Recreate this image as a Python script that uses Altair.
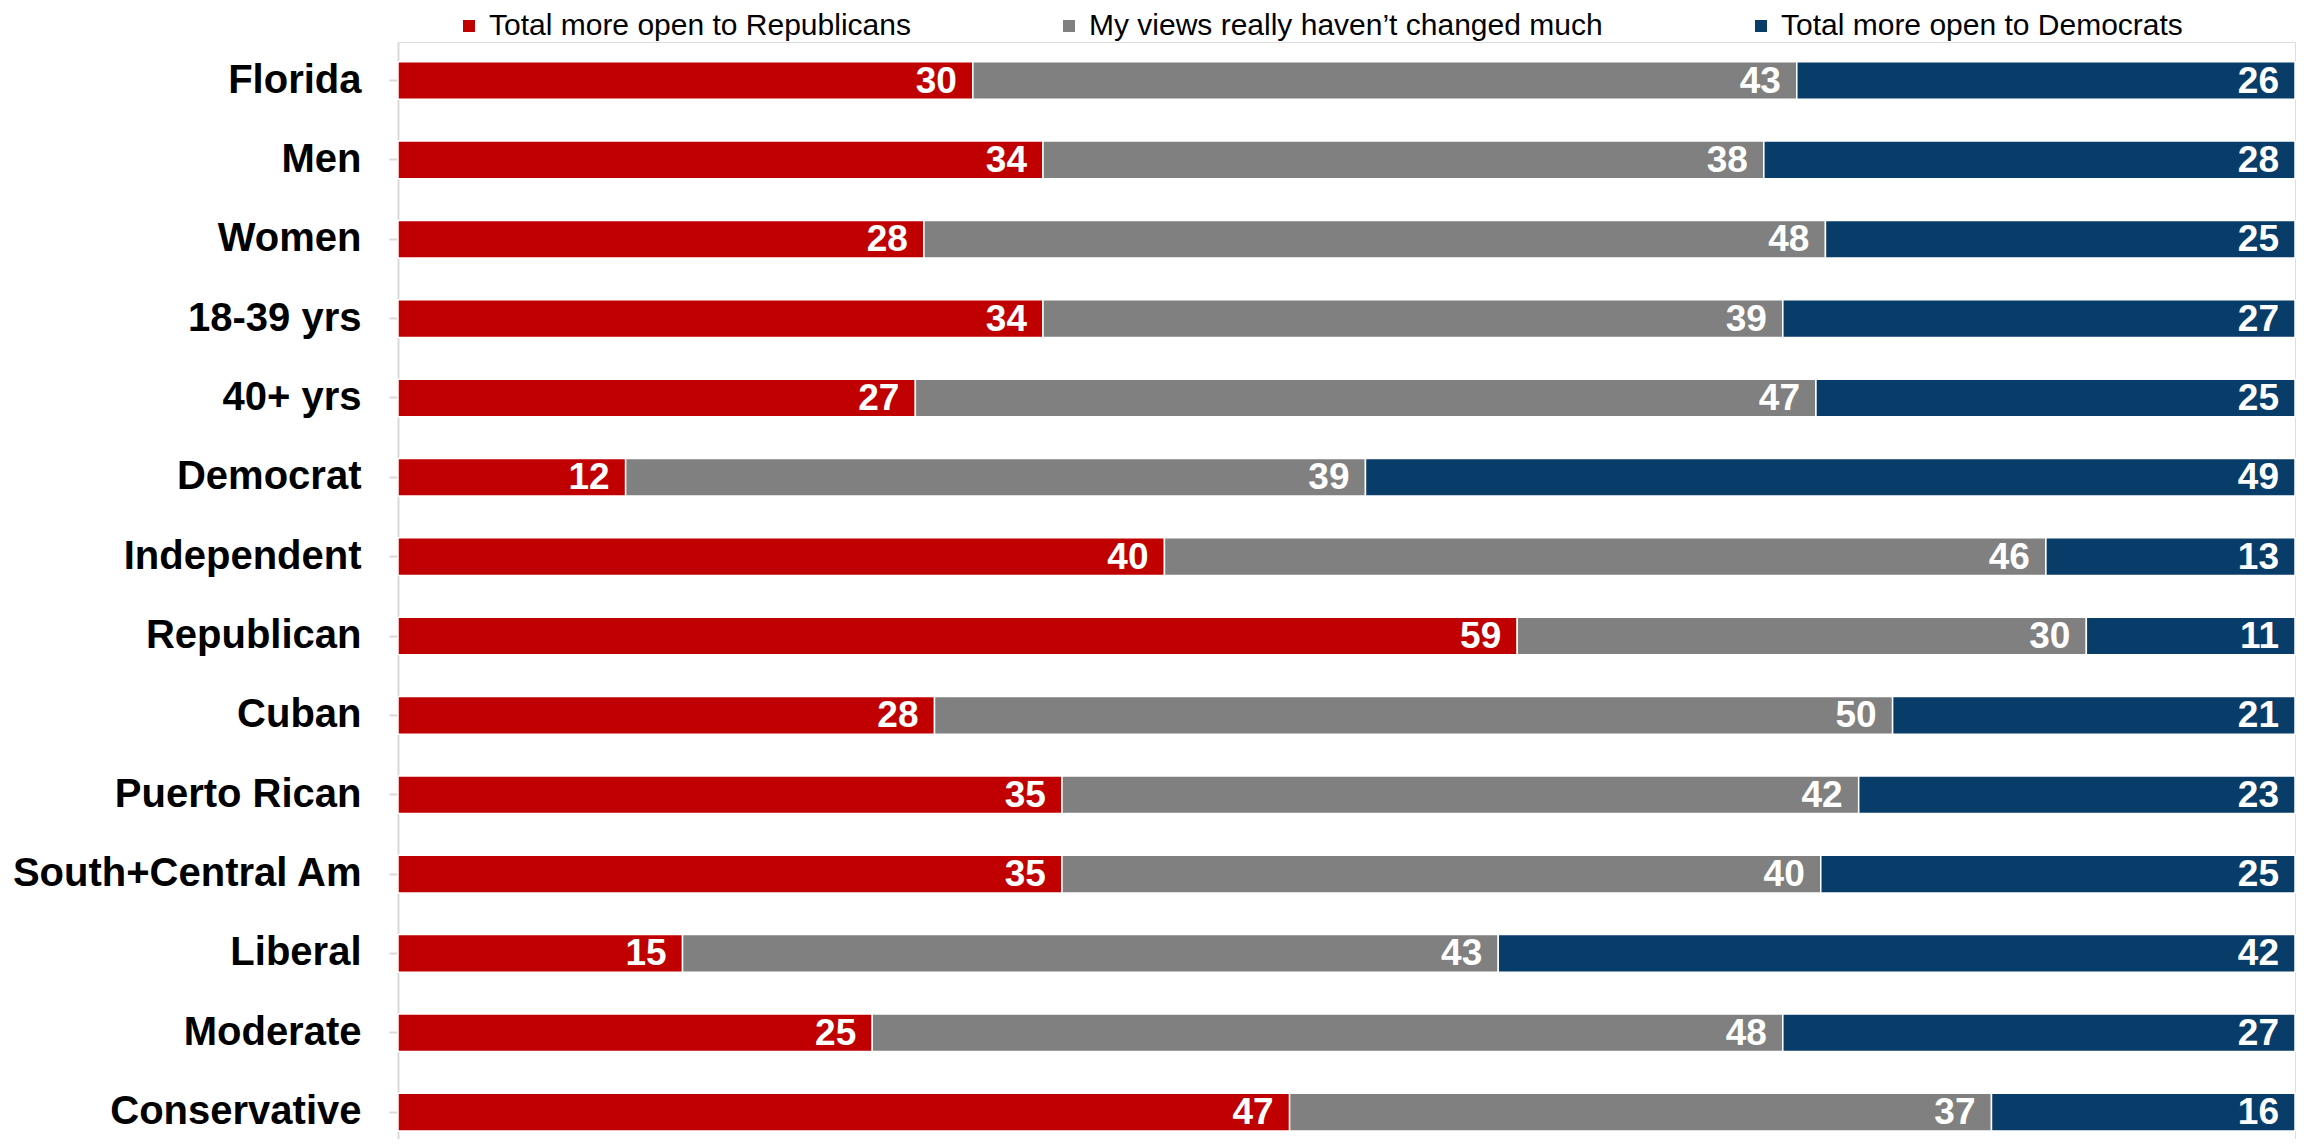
import altair as alt
import pandas as pd

groups = ["Florida", "Men", "Women", "18-39 yrs", "40+ yrs", "Democrat", "Independent",
          "Republican", "Cuban", "Puerto Rican", "South+Central Am", "Liberal",
          "Moderate", "Conservative"]
series = ["Total more open to Republicans", "My views really haven\u2019t changed much",
          "Total more open to Democrats"]
republicans = [30, 34, 28, 34, 27, 12, 40, 59, 28, 35, 35, 15, 25, 47]
unchanged = [43, 38, 48, 39, 47, 39, 46, 30, 50, 42, 40, 43, 48, 37]
democrats = [26, 28, 25, 27, 25, 49, 13, 11, 21, 23, 25, 42, 27, 16]
colors = ["#C00000", "#808080", "#083D69"]

rows = []
for i, g in enumerate(groups):
    for k, vals in enumerate([republicans, unchanged, democrats]):
        rows.append({"group": g, "series": series[k], "order": k, "value": vals[i]})
df = pd.DataFrame(rows)

FONT = "Liberation Sans"

base = alt.Chart(df).transform_stack(
    stack="value", groupby=["group"], as_=["start", "end"],
    offset="normalize", sort=[alt.SortField("order", order="ascending")]
)

yenc = alt.Y("group:N", sort=groups, title=None,
             scale=alt.Scale(paddingInner=0.526, paddingOuter=0.175, align=0.71),
             axis=alt.Axis(labelFont=FONT, labelFontSize=40, labelFontWeight="bold",
                           labelColor="#000000", domainColor="#D9D9D9", domainWidth=2,
                           tickColor="#D9D9D9", tickSize=9, tickWidth=2, labelPadding=28,
                           labelLimit=1000))

xscale = alt.Scale(domain=[0, 1], nice=False, zero=True)

bars = base.mark_bar(stroke="white", strokeWidth=1.5).encode(
    y=yenc,
    x=alt.X("start:Q", scale=xscale, axis=None),
    x2="end:Q",
    color=alt.Color("series:N", scale=alt.Scale(domain=series, range=colors),
                    legend=alt.Legend(title=None, orient="none", direction="horizontal",
                                      legendX=56, legendY=-31,
                                      labelFont=FONT, labelFontSize=30, labelColor="#000000",
                                      symbolType="square", symbolSize=144, symbolStrokeWidth=0,
                                      labelOffset=5, columnPadding=143, labelLimit=1000,
                                      columns=3)),
)

labels = base.mark_text(align="right", baseline="middle", dx=-16, dy=1, color="white",
                        font=FONT, fontSize=37, fontWeight="bold").encode(
    y=alt.Y("group:N", sort=groups),
    x=alt.X("end:Q", scale=xscale),
    text="value:Q",
)

chart = alt.layer(bars, labels).properties(
    width=1897, height=1097,
    autosize=alt.AutoSizeParams(type="none"),
    padding={"left": 390, "top": 34, "right": 5, "bottom": 0},
).configure_view(stroke=None).configure(background="white")

chart.save("out.html", embed_options={"renderer": "svg", "actions": False})
